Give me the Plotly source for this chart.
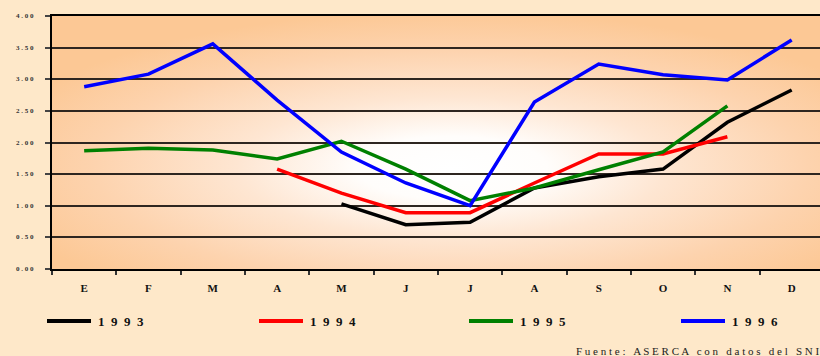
import base64
import plotly.graph_objects as go

# Monthly values per year (None where there is no data)
months = ["E", "F", "M", "A", "M ", "J", "J ", "A ", "S", "O", "N", "D"]
month_labels = ["E", "F", "M", "A", "M", "J", "J", "A", "S", "O", "N", "D"]
years = ["1993", "1994", "1995", "1996"]
v1993 = [None, None, None, None, 1.03, 0.70, 0.74, 1.28, 1.46, 1.58, 2.32, 2.83]
v1994 = [None, None, None, 1.58, 1.20, 0.89, 0.89, 1.36, 1.82, 1.82, 2.09, None]
v1995 = [1.87, 1.91, 1.88, 1.74, 2.02, 1.58, 1.08, 1.28, 1.57, 1.85, 2.58, None]
v1996 = [2.88, 3.08, 3.56, 2.67, 1.85, 1.36, 1.00, 2.64, 3.24, 3.07, 2.99, 3.62]
y_ticks = [0, 0.5, 1.0, 1.5, 2.0, 2.5, 3.0, 3.5, 4.0]

series = [v1993, v1994, v1995, v1996]
colors = ["#000000", "#ff0000", "#008000", "#0000ff"]

SERIF = "Liberation Serif, Times New Roman, serif"


def spaced(s, sep=" "):
    return sep.join(list(s))


fig = go.Figure()
for name, vals, col in zip(years, series, colors):
    fig.add_trace(go.Scatter(
        x=months, y=vals, name=name, mode="lines",
        line=dict(color=col, width=3.5), connectgaps=False,
        showlegend=False,
    ))

# Radial glow behind the plotting area
svg = """<svg xmlns='http://www.w3.org/2000/svg' width='800' height='260' preserveAspectRatio='none'>
<defs><radialGradient id='g' cx='0.52' cy='0.6' r='0.62'>
<stop offset='0' stop-color='#ffffff'/>
<stop offset='0.2' stop-color='#fffdfb'/>
<stop offset='0.45' stop-color='#fee6d2'/>
<stop offset='0.75' stop-color='#fdd3ae'/>
<stop offset='1' stop-color='#fcc895'/>
</radialGradient></defs>
<rect width='800' height='260' fill='url(#g)'/></svg>"""
src = "data:image/svg+xml;base64," + base64.b64encode(svg.encode()).decode()
fig.add_layout_image(dict(source=src, xref="paper", yref="paper", x=0, y=1,
                          sizex=1, sizey=1, sizing="stretch", layer="below",
                          xanchor="left", yanchor="top"))

# Legend drawn as paper-anchored samples and labels
PLOT_L, PLOT_W, PLOT_B, PLOT_H = 52, 768, 269, 253


def px_x(px):
    return (px - PLOT_L) / PLOT_W


def px_y(py):
    return (PLOT_B - py) / PLOT_H


legend_x = [47, 259, 469, 681]
for lx, name, col in zip(legend_x, years, colors):
    fig.add_shape(type="line", xref="paper", yref="paper",
                  x0=px_x(lx), x1=px_x(lx + 44), y0=px_y(321), y1=px_y(321),
                  line=dict(color=col, width=4))
    fig.add_annotation(xref="paper", yref="paper", x=px_x(lx + 49), y=px_y(321),
                       text="<b>" + spaced(name, "\u00a0\u00a0") + "</b>", showarrow=False,
                       xanchor="left", yanchor="middle",
                       font=dict(family=SERIF, size=13, color="#111111"))

fig.add_annotation(xref="paper", yref="paper", x=px_x(574), y=px_y(343),
                   text="F u e n t e :   A S E R C A   c o n   d a t o s   d e l   S N I I M",
                   showarrow=False, xanchor="left", yanchor="top",
                   font=dict(family=SERIF, size=11, color="#222222"))

# y tick labels sit as annotations so their right edge can be placed freely
for v in y_ticks:
    fig.add_annotation(xref="paper", yref="y", x=px_x(36), y=v,
                       text="<b>" + spaced("%.2f" % v) + "</b>", showarrow=False,
                       xanchor="right", yanchor="middle",
                       font=dict(family=SERIF, size=7, color="#333333"))

fig.update_layout(
    width=820, height=356,
    margin=dict(l=52, r=0, t=16, b=87, pad=0),
    paper_bgcolor="#fee8c9",
    plot_bgcolor="rgba(0,0,0,0)",
    showlegend=False,
    xaxis=dict(
        type="category", categoryorder="array", categoryarray=months,
        tickvals=months, ticktext=["<b>%s</b>" % m for m in month_labels],
        range=[-0.5, 11.44], tickson="boundaries",
        ticks="outside", ticklen=4, tickwidth=1.5, tickcolor="#333333",
        showline=True, linecolor="#000000", linewidth=2, mirror=True,
        showgrid=False, zeroline=False, ticklabelstandoff=8,
        tickfont=dict(family=SERIF, size=11, color="#111111"),
    ),
    yaxis=dict(
        range=[0, 4], tickvals=y_ticks, showticklabels=False,
        ticks="outside", ticklen=5, tickwidth=1.5, tickcolor="#444444",
        showline=True, linecolor="#000000", linewidth=2,
        showgrid=True, gridcolor="#2e2620", gridwidth=1.5, zeroline=False,
    ),
)

fig.write_html("out.html")
